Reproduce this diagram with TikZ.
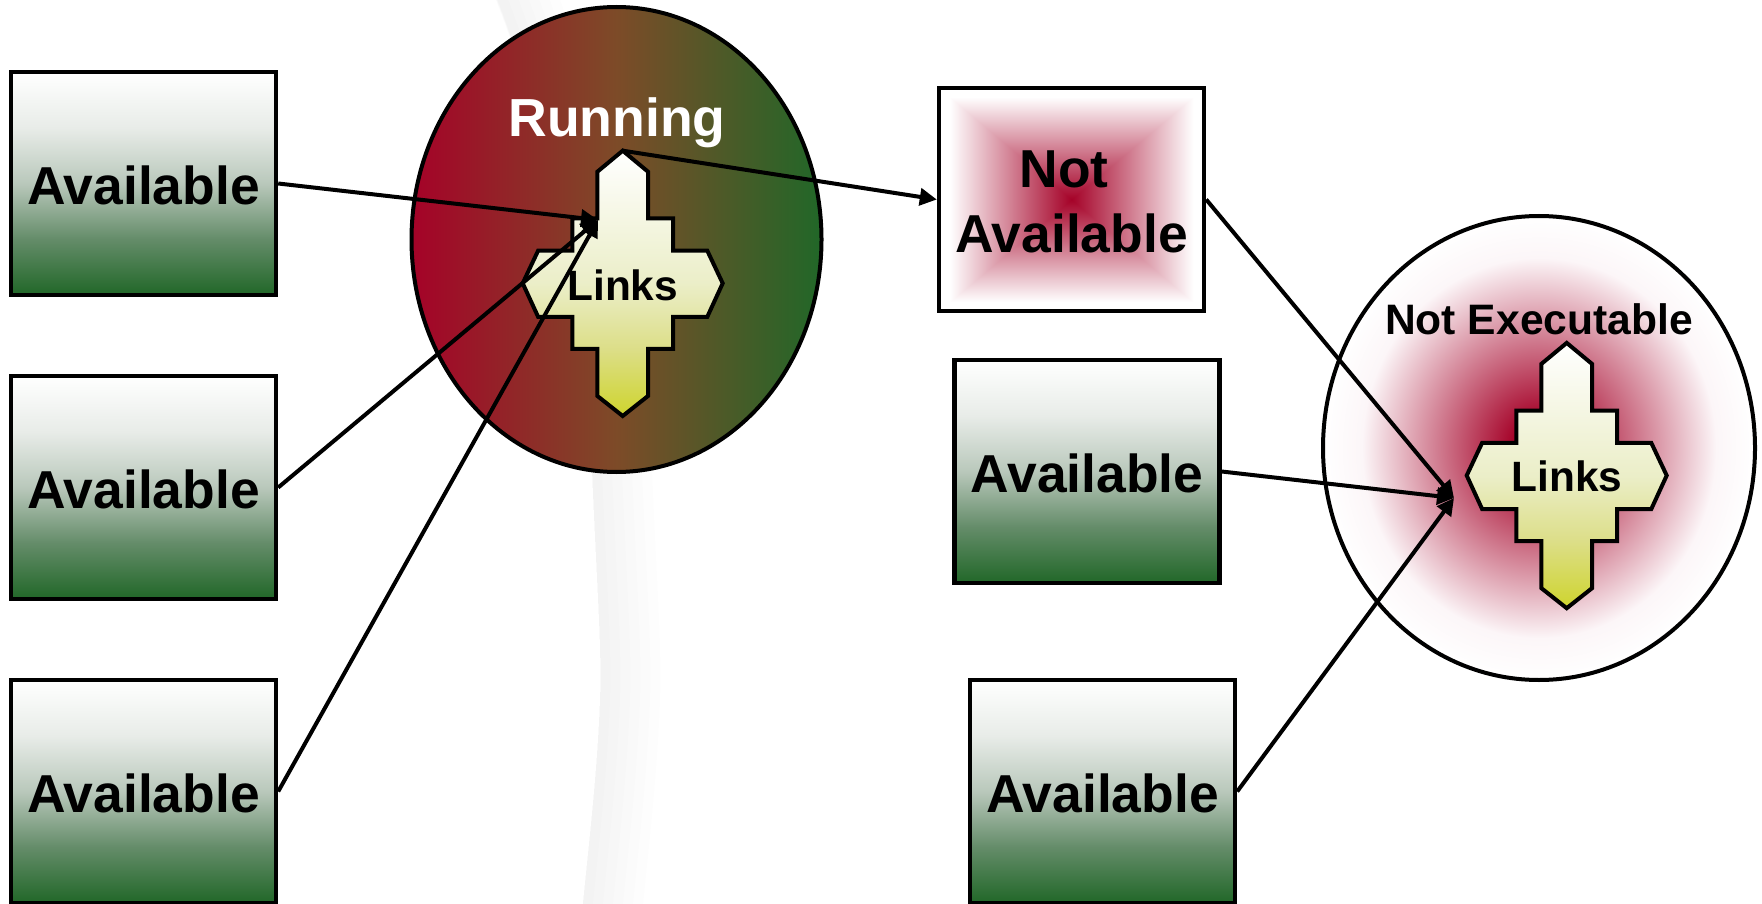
\documentclass[tikz,border=0pt]{standalone}
\usepackage{fontspec}
\setmainfont{Liberation Sans}
\usetikzlibrary{arrows.meta,shapes.geometric}
\definecolor{crim}{RGB}{165,2,40}
\definecolor{midbrown}{RGB}{125,75,40}
\definecolor{grn}{RGB}{33,103,40}
\definecolor{st1}{RGB}{100,140,105}
\definecolor{st2}{RGB}{185,200,187}
\definecolor{st3}{RGB}{232,236,232}
\definecolor{cr0}{RGB}{206,212,45}
\definecolor{cr1}{RGB}{220,222,135}
\definecolor{cr2}{RGB}{235,238,200}
\definecolor{edgepink}{RGB}{252,246,248}
\pgfdeclareverticalshading{boxgradb}{100bp}{
  color(0bp)=(grn); color(25bp)=(grn); color(37.5bp)=(st1);
  color(50bp)=(st2); color(62.5bp)=(st3); color(75bp)=(white); color(100bp)=(white)}
\pgfdeclareverticalshading{crossgrad}{100bp}{
  color(0bp)=(cr0); color(25bp)=(cr0); color(37.5bp)=(cr1);
  color(50bp)=(cr2); color(75bp)=(white); color(100bp)=(white)}
\pgfdeclareradialshading{notexec}{\pgfpoint{0bp}{0bp}}{
  color(0bp)=(crim); color(3bp)=(crim); color(20.5bp)=(edgepink); color(25bp)=(white); color(50bp)=(white)}
\pgfdeclarefunctionalshading{notavail}{\pgfpoint{-50bp}{-50bp}}{\pgfpoint{50bp}{50bp}}{}{
  abs exch abs 2 copy lt {exch} if pop 23 div
  dup 0.353 mul 0.647 add exch dup 0.992 mul 0.008 add exch 0.843 mul 0.157 add}
\newcommand\boxstrut{\rule{0pt}{41.9pt}}
\tikzset{
  x=1pt,y=-1pt,
  availbox/.style={draw=black,line width=4.4pt,shade,shading=boxgradb,rectangle,
    minimum width=265pt,minimum height=223pt,inner sep=0pt,font=\fontsize{53.4}{64.7}\selectfont\bfseries,align=center},
  redbox/.style={availbox,shading=notavail},
  blob/.style={draw=black,line width=4pt,ellipse,inner sep=0pt},
  linkshape/.style={draw=black,line width=4pt,shade,shading=crossgrad,miter limit=10},
  linklabel/.style={anchor=base,inner sep=0pt,font=\fontsize{42.4}{48}\selectfont\bfseries},
  blobtitle/.style={anchor=base,inner sep=0pt,font=\bfseries},
  conn/.style={draw=black,line width=4pt,-{Triangle[length=17pt,width=17pt]}}
}
\newcommand\linkcross[1]{%
  \path[linkshape,shift={(#1)}] (0,-132.6)--(25.3,-111.6)--(25.3,-65)--(50.3,-65)--(50.3,-32.6)--(84.6,-32.6)--(100,0)
    --(84.6,33.5)--(50.3,33.5)--(50.3,65.5)--(25.3,65.5)--(25.3,112.7)--(0,132.7)--(-25.3,112.7)--(-25.3,65.5)
    --(-50.3,65.5)--(-50.3,33.5)--(-84.6,33.5)--(-100,0)--(-84.6,-32.6)--(-50.3,-32.6)--(-50.3,-65)--(-25.3,-65)
    --(-25.3,-111.6)--cycle;}
\begin{document}
\begin{tikzpicture}
\useasboundingbox (0,0) rectangle (1762,904);
\fill[white] (0,0) rectangle (1762,904);
% faint backdrop band
\foreach \w in {10,20,30,40,50,60}{
  \draw[line width=\w pt,black,opacity=0.007,shift={(\w/2,0)}]
    (490,-20) .. controls (540,100) and (585,300) .. (592,470)
    .. controls (597,590) and (602,650) .. (600,700)
    .. controls (597,780) and (588,850) .. (581,924);
}
% big states
\node[blob,shade,left color=crim,right color=grn,middle color=midbrown,minimum width=410pt,minimum height=465pt] (run) at (616.5,239.5) {};
\node[blob,shade,shading=notexec,minimum width=432pt,minimum height=464pt] (nex) at (1539,448) {};
% link crosses
\linkcross{622.7,283.3}
\linkcross{1566.7,475.5}
\coordinate (c1top) at (622.7,150.7);
\coordinate (c1in) at (598,220);
\coordinate (c2in) at (1454,498);
\node[linklabel] (l1) at (622.7,300) {Links};
\node[linklabel] (l2) at (1567,491.7) {Links};
\node[blobtitle,font=\fontsize{53.6}{60}\selectfont\bfseries,text=white] (runt) at (617,137) {Running};
\node[blobtitle,font=\fontsize{42.6}{50}\selectfont\bfseries] (next) at (1539,334) {Not Executable};
% boxes
\node[availbox] (b1) at (143.5,183.5) {\boxstrut Available};
\node[availbox] (b2) at (143.5,487.5) {\boxstrut Available};
\node[availbox] (b3) at (143.5,791.5) {\boxstrut Available};
\node[redbox] (na) at (1071.5,199.5) {\boxstrut Not\hspace*{14.6pt}\\Available};
\node[availbox] (a2) at (1087,471.5) {\boxstrut Available};
\node[availbox] (a3) at (1102.5,791.5) {\boxstrut Available};
% connectors
\draw[conn] (b1.east) -- (c1in);
\draw[conn] (b2.east) -- (c1in);
\draw[conn] (b3.east) -- (c1in);
\draw[conn] (c1top) -- (na.west);
\draw[conn] (na.east) -- (c2in);
\draw[conn] (a2.east) -- (c2in);
\draw[conn] (a3.east) -- (c2in);
\end{tikzpicture}
\end{document}
